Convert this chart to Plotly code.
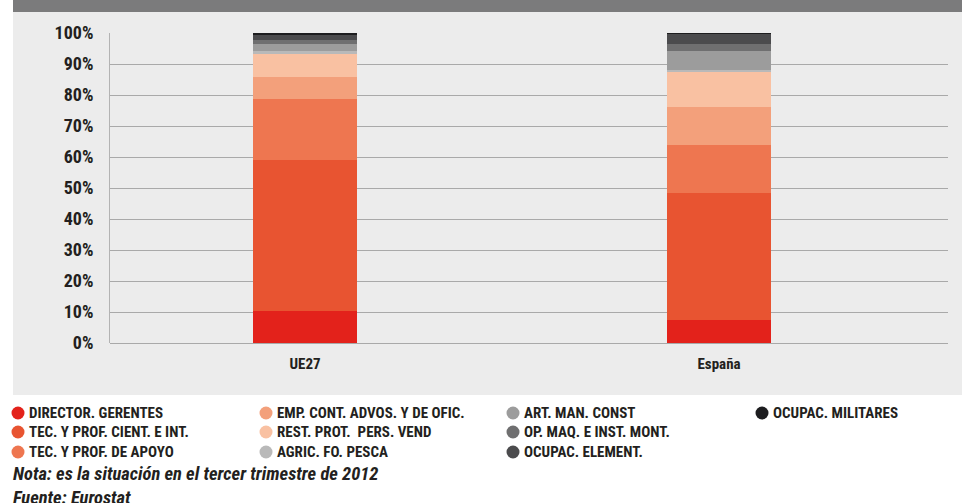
import plotly.graph_objects as go

# Data: share of each occupational group (%)
categories = ["UE27", "España"]
groups = [
    "DIRECTOR. GERENTES",
    "TEC. Y PROF. CIENT. E INT.",
    "TEC. Y PROF. DE APOYO",
    "EMP. CONT. ADVOS. Y DE OFIC.",
    "REST. PROT.  PERS. VEND",
    "AGRIC. FO. PESCA",
    "ART. MAN. CONST",
    "OP. MAQ. E INST. MONT.",
    "OCUPAC. ELEMENT.",
    "OCUPAC. MILITARES",
]
ue27 = [10.2, 48.8, 19.8, 7.0, 7.5, 0.8, 2.35, 1.25, 1.8, 0.5]
espana = [7.3, 41.0, 15.6, 12.2, 11.3, 0.65, 6.15, 2.25, 3.25, 0.3]
colors = [
    "#e3221b", "#e85431", "#ee7650", "#f3a07b", "#f9c1a2",
    "#b9b9b9", "#9c9c9c", "#6f6f70", "#4b4b4d", "#1d1d1f",
]
y_ticks = list(range(0, 101, 10))
notes = ["Nota: es la situación en el tercer trimestre de 2012", "Fuente: Eurostat"]

FONT = "Liberation Sans Narrow, Arial Narrow, Roboto Condensed, Roboto, sans-serif"
TEXT = "#231f20"

W, H = 962, 503
L, R, T, B = 110, 14, 33, 160
PW, PH = W - L - R, H - T - B


def px_x(px):
    return (px - L) / PW


def px_y(py):
    return (H - B - py) / PH


fig = go.Figure()
for i, name in enumerate(groups):
    fig.add_trace(go.Bar(
        x=categories,
        y=[ue27[i], espana[i]],
        name=name,
        marker=dict(color=colors[i], line=dict(width=0)),
        width=0.251,
        showlegend=False,
        hovertemplate="%{x}: %{y}%<extra>" + name + "</extra>",
    ))

shapes = [
    # grey panel behind the chart
    dict(type="rect", xref="paper", yref="paper", layer="below",
         x0=px_x(13), x1=px_x(962), y0=px_y(395), y1=px_y(12),
         fillcolor="#ececec", line=dict(width=0)),
    # header band
    dict(type="rect", xref="paper", yref="paper", layer="below",
         x0=px_x(13), x1=px_x(962), y0=px_y(12), y1=px_y(0),
         fillcolor="#7b7b7c", line=dict(width=0)),
]
annotations = []

# Legend in four columns, filled column by column
col_x = [18, 266, 513, 762]
row_y = [413, 432, 452]
for i, name in enumerate(groups):
    cx, cy = col_x[i // 3], row_y[i % 3]
    shapes.append(dict(
        type="circle", xref="paper", yref="paper",
        xsizemode="pixel", ysizemode="pixel",
        xanchor=px_x(cx), yanchor=px_y(cy),
        x0=-6.5, x1=6.5, y0=-6.5, y1=6.5,
        fillcolor=colors[i], line=dict(width=0),
    ))
    annotations.append(dict(
        text=name, xref="paper", yref="paper",
        x=px_x(cx + 9), y=px_y(cy), xanchor="left", yanchor="middle",
        showarrow=False,
        font=dict(family=FONT, size=15, color=TEXT, weight="bold"),
    ))

for text, cy in zip(notes, [474, 498]):
    annotations.append(dict(
        text=text, xref="paper", yref="paper",
        x=px_x(11), y=px_y(cy), xanchor="left", yanchor="middle",
        showarrow=False,
        font=dict(family=FONT, size=18.5, color=TEXT, weight="bold", style="italic"),
    ))

fig.update_layout(
    width=W, height=H,
    margin=dict(l=L, r=R, t=T, b=B, pad=0),
    barmode="stack",
    paper_bgcolor="white",
    plot_bgcolor="#ececec",
    showlegend=False,
    shapes=shapes,
    annotations=annotations,
    font=dict(family=FONT, color=TEXT),
    xaxis=dict(
        range=[-0.471, 1.553],
        showgrid=False, showline=False, zeroline=False,
        ticks="", ticklabelstandoff=10,
        tickfont=dict(family=FONT, size=15, color=TEXT, weight="bold"),
        fixedrange=True,
    ),
    yaxis=dict(
        range=[0, 100],
        tickvals=y_ticks,
        ticktext=[f"{v}%" for v in y_ticks],
        showgrid=True, gridcolor="#a9a9a9", gridwidth=1,
        showline=True, linecolor="#b3b3b3", linewidth=1,
        zeroline=True, zerolinecolor="#a9a9a9", zerolinewidth=1,
        ticks="", ticklabelstandoff=12,
        tickfont=dict(family=FONT, size=18, color=TEXT, weight="bold"),
        fixedrange=True,
    ),
)

fig.write_html("out.html")
